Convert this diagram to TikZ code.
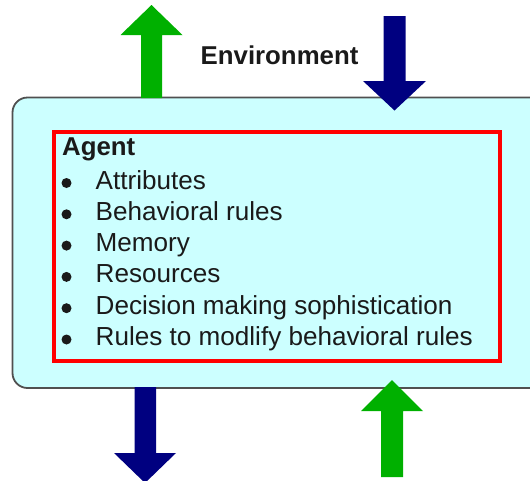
\documentclass[tikz,border=0pt]{standalone}
\usepackage{fontspec}
\setmainfont{Liberation Sans}
\definecolor{agreen}{HTML}{00B000}
\definecolor{anavy}{HTML}{000080}
\definecolor{acyan}{HTML}{CCFFFF}
\definecolor{aframe}{HTML}{505050}
\definecolor{atext}{HTML}{1A1A1A}
\begin{document}
\begin{tikzpicture}[x=1pt,y=-1pt,
  outerbox/.style={fill=acyan,draw=aframe,line width=1.8pt,rounded corners=15pt},
  agentbox/.style={draw=red,line width=3.5pt},
  greenarrow/.style={fill=agreen,draw=none},
  navyarrow/.style={fill=anavy,draw=none},
  itemtext/.style={anchor=base west,inner sep=0pt,text=atext,font=\fontsize{26.1}{31}\selectfont},
  boldtext/.style={itemtext,font=\fontsize{25.8}{31}\selectfont\bfseries},
  bulletdot/.style={fill=atext,draw=none}
]
\useasboundingbox (0,0) rectangle (530,480);
\clip (0,0) rectangle (530,480);
% outer environment box
\draw[outerbox] (12.5,97.5) rectangle (560,388);
% agent box
\draw[agentbox] (54,132) rectangle (500,361);
% arrows
\fill[greenarrow] (141,98) -- (141,35) -- (120.5,35) -- (151.5,5) -- (182.5,35) -- (162,35) -- (162,98) -- cycle;
\fill[navyarrow] (383.5,16) -- (383.5,81) -- (363,81) -- (394.5,110.5) -- (426,81) -- (405.5,81) -- (405.5,16) -- cycle;
\fill[navyarrow] (134.5,387) -- (134.5,453) -- (114,453) -- (145,483) -- (176,453) -- (156,453) -- (156,387) -- cycle;
\fill[greenarrow] (381,477) -- (381,411) -- (361,411) -- (392,380) -- (423,411) -- (403,411) -- (403,477) -- cycle;
% texts
\node[boldtext] (env) at (200.5,64.3) {Environment};
\node[boldtext] (agent) at (62,155.5) {Agent};
\foreach \t [count=\i from 0] in {Attributes,Behavioral rules,Memory,Resources,Decision making sophistication,Rules to modlify behavioral rules}{
  \node[itemtext] (item\i) at (95.5,189+31.3*\i) {\t};
  \fill[bulletdot] (66.5,183+31.3*\i) circle (5);
}
\end{tikzpicture}
\end{document}
